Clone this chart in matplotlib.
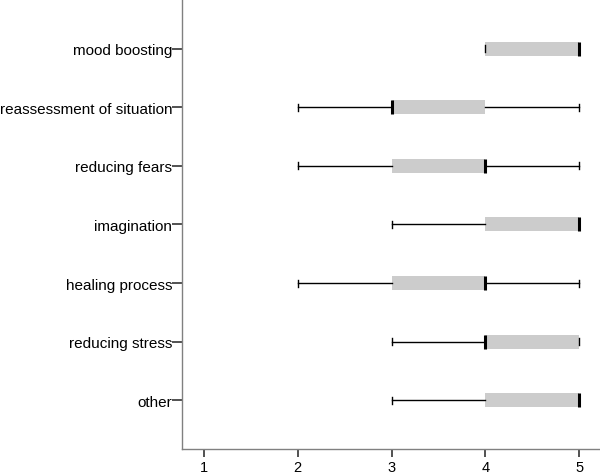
import matplotlib
matplotlib.use("Agg")
import matplotlib.pyplot as plt

plt.rcParams["font.family"] = ["Liberation Sans", "DejaVu Sans"]

# categories, top to bottom
labels = ["mood boosting", "reassessment of situation", "reducing fears",
          "imagination", "healing process", "reducing stress", "other"]
whislo = [4, 2, 2, 3, 2, 3, 3]
q1 = [4, 3, 3, 4, 3, 4, 4]
med = [5, 3, 4, 5, 4, 4, 5]
q3 = [5, 4, 4, 5, 4, 5, 5]
whishi = [5, 5, 5, 5, 5, 5, 5]

n = len(labels)
positions = list(range(n, 0, -1))

stats = []
for i in range(n):
    stats.append({"label": labels[i], "whislo": whislo[i], "q1": q1[i],
                  "med": med[i], "q3": q3[i], "whishi": whishi[i], "fliers": []})

fig = plt.figure(figsize=(6, 4.77), dpi=100)
ax = fig.add_axes([0.3033, 0.0565, 0.6967, 0.9435])

ax.bxp(stats, positions=positions, vert=False, widths=0.24, patch_artist=True,
       showfliers=False,
       boxprops=dict(facecolor="#cccccc", edgecolor="none"),
       medianprops=dict(color="black", linewidth=2.2),
       whiskerprops=dict(color="black", linewidth=1.0),
       capprops=dict(color="black", linewidth=1.0))

ax.set_xlim(0.769, 5.22)
ax.set_ylim(0.165, 7.85)
ax.set_xticks([1, 2, 3, 4, 5])
ax.set_yticks(positions)
ax.set_yticklabels(labels)

for s in ["top", "right"]:
    ax.spines[s].set_visible(False)
for s in ["left", "bottom"]:
    ax.spines[s].set_color("#808080")
    ax.spines[s].set_linewidth(1.0)

ax.tick_params(axis="y", length=7, width=1.2, color="#333333", pad=0, labelsize=11)
ax.tick_params(axis="x", length=6, width=1.2, color="#333333", pad=2, labelsize=10.5)

fig.savefig("out.png", dpi=100)
